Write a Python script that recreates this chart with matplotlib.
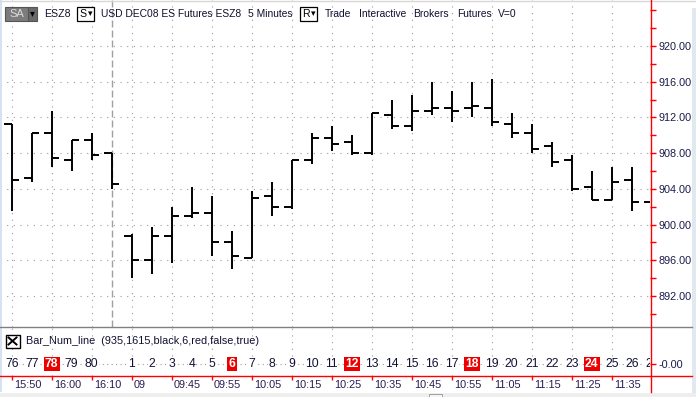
import matplotlib
matplotlib.use("Agg")
import matplotlib.pyplot as plt
from matplotlib.patches import Rectangle
import numpy as np

plt.rcParams['font.family'] = ['Liberation Sans', 'DejaVu Sans']

# bar labels (76..80 previous session, one unlabeled bar, then 1..27)
bar_labels = ['76', '77', '78', '79', '80', ''] + [str(i) for i in range(1, 28)]
highlight = ['78', '6', '12', '18', '24']

opens = [911.25, 905.25, 910.25, 907.25, 909.50, 908.00,
         898.75, 896.00, 898.75, 901.00, 901.25, 898.00, 896.25, 903.25, 902.00,
         907.25, 909.75, 909.25, 908.00, 912.25, 911.00, 912.75, 913.00, 913.00,
         913.00, 911.25, 910.25, 908.75, 907.25, 904.25, 902.75, 905.00, 902.50]
highs = [911.25, 910.25, 912.75, 909.50, 910.25, 908.00,
         899.00, 899.75, 902.00, 904.25, 903.25, 899.25, 903.75, 904.75, 907.25,
         910.25, 911.00, 910.00, 912.50, 914.00, 914.50, 916.00, 915.00, 916.00,
         916.25, 912.50, 911.25, 909.25, 907.75, 906.00, 906.50, 906.50, 902.50]
lows = [901.50, 904.75, 906.50, 906.00, 907.25, 904.00,
        894.00, 894.50, 895.75, 900.75, 896.50, 895.00, 896.25, 901.00, 901.75,
        906.75, 908.25, 907.75, 907.75, 910.75, 910.50, 912.25, 911.50, 912.00,
        911.00, 909.75, 908.00, 906.50, 903.75, 902.75, 902.75, 901.50, 902.50]
closes = [905.00, 910.25, 907.50, 909.50, 907.75, 904.50,
          896.00, 898.75, 901.00, 901.25, 898.00, 896.50, 903.00, 902.00, 907.25,
          909.75, 909.00, 908.00, 912.50, 911.00, 912.75, 913.00, 912.75, 913.25,
          911.50, 910.25, 908.50, 907.00, 904.00, 902.75, 904.75, 902.50, 902.50]

price_ticks = [892, 896, 900, 904, 908, 912, 916, 920]
time_labels = ['15:50', '16:00', '16:10', '09', '09:45', '09:55', '10:05', '10:15',
               '10:25', '10:35', '10:45', '10:55', '11:05', '11:15', '11:25', '11:35']
session_break = 5

W, H = 696, 397
TXT = '#1c1c4c'
GRID = '#9a9a9a'


def box(x0, y0, x1, y1):
    return [x0 / W, 1 - y1 / H, (x1 - x0) / W, (y1 - y0) / H]


fig = plt.figure(figsize=(W / 100, H / 100), dpi=100)
fig.patch.set_facecolor('white')

x = np.arange(len(opens))
xlim = (-0.585, 31.915)

# main price panel
ax = fig.add_axes(box(0, 0, 650, 327))
ax.set_xlim(*xlim)
ax.set_ylim(888.53, 925.15)
for s in ax.spines.values():
    s.set_visible(False)
ax.set_xticks([])
ax.yaxis.tick_right()
ax.set_yticks(price_ticks)
ax.set_yticks(np.arange(890, 926, 2), minor=True)
ax.set_yticklabels([f'{v:.2f}' for v in price_ticks])
ax.tick_params(axis='y', which='both', colors='red', length=4, width=1, direction='out',
               labelcolor=TXT, labelsize=7.8, pad=2)
for p in price_ticks:
    ax.axhline(p, color=GRID, lw=0.8, ls=(0, (1, 5)), zorder=0)
for i in range(0, 32, 2):
    ax.axvline(i, color=GRID, lw=0.8, ls=(0, (1, 5)), zorder=0)
ax.axvline(session_break, color='#a0a0a0', lw=1, ls=(0, (5, 2.2)), zorder=1)

t = 0.37
ax.vlines(x, lows, highs, color='black', lw=1.4, zorder=3)
ax.hlines(opens, x - t, x, color='black', lw=1.4, zorder=3)
ax.hlines(closes, x, x + t, color='black', lw=1.4, zorder=3)

# indicator panel with bar numbers
ax2 = fig.add_axes(box(0, 327, 650, 376))
ax2.set_xlim(*xlim)
ax2.set_ylim(-12, 37)
ax2.patch.set_alpha(0)
for s in ax2.spines.values():
    s.set_visible(False)
ax2.set_xticks([])
ax2.yaxis.tick_right()
ax2.set_yticks([0])
ax2.set_yticklabels(['-0.00'])
ax2.tick_params(axis='y', colors='red', length=4, width=1, labelcolor=TXT, labelsize=7.8, pad=2)
ax2.axhline(0, color=GRID, lw=0.8, ls=(0, (1, 3)), zorder=0)
for i in range(0, 32, 2):
    ax2.axvline(i, color=GRID, lw=0.8, ls=(0, (1, 5)), zorder=0)
for xi, lab in zip(x, bar_labels):
    if not lab:
        continue
    if lab in highlight:
        ax2.text(xi, 0, lab, ha='center', va='center', fontsize=8.7, color='white',
                 fontweight='bold', clip_on=True, zorder=3,
                 bbox=dict(boxstyle='square,pad=0.12', fc='#ee0000', ec='none'))
    else:
        ax2.text(xi, 0, lab, ha='center', va='center', fontsize=8.7, color='#111133',
                 clip_on=True, zorder=3,
                 bbox=dict(boxstyle='square,pad=0.02', fc='white', ec='none'))

# time axis
ax3 = fig.add_axes(box(0, 376, 650, 392))
ax3.set_xlim(*xlim)
ax3.set_ylim(0, 1)
for s in ax3.spines.values():
    s.set_visible(False)
ax3.set_yticks([])
ax3.xaxis.tick_top()
ax3.set_xticks(np.arange(0, 32, 2))
ax3.set_xticklabels([])
ax3.tick_params(axis='x', colors='red', direction='in', length=3, width=1)
for i, lab in zip(range(0, 32, 2), time_labels):
    ax3.text(i + 0.12, 0.45, lab, ha='left', va='center', fontsize=7.8, color='#2a1a50')

# overlay in pixel coordinates: frame lines, header, legend
ov = fig.add_axes([0, 0, 1, 1], zorder=10)
ov.set_xlim(0, W)
ov.set_ylim(H, 0)
ov.axis('off')
ov.patch.set_alpha(0)

ov.add_patch(Rectangle((0, 0), 1.5, 392, fc='#d6e2f2', ec='none'))
ov.add_patch(Rectangle((692, 8), 4, 385, fc='#e2e8f0', ec='none'))
ov.add_patch(Rectangle((0, 393), W, 4, fc='#eeeeee', ec='none'))
ov.add_patch(Rectangle((429, 393.5), 13, 4, fc='#f4f4f4', ec='#a0a0a0', lw=0.7))
ov.plot([0, W], [0.5, 0.5], color='#d8d8d8', lw=1)
ov.plot([0, 692], [327, 327], color='#808080', lw=1)
ov.plot([0, 692], [376, 376], color='red', lw=1)
ov.plot([650.5, 650.5], [0, 392], color='red', lw=1)

# header
ov.add_patch(Rectangle((5, 6.5), 23, 14, fc='#7c7c7c', ec='#555555', lw=0.8))
ov.add_patch(Rectangle((28, 6.5), 9, 14, fc='#6a6a6a', ec='#555555', lw=0.8))
ov.text(16.5, 14, 'SA', ha='center', va='center', fontsize=8, color='#dddddd')
ov.text(32.5, 13.5, '▾', ha='center', va='center', fontsize=7, color='black',
        family=['DejaVu Sans'])
ov.text(44, 14, 'ESZ8', ha='left', va='center', fontsize=7.6, color='#101030')
for x0, lab in [(77, 'S'), (300, 'R')]:
    ov.add_patch(Rectangle((x0, 6.5), 17, 14, fc='white', ec='black', lw=0.9))
    ov.text(x0 + 2, 14, lab, ha='left', va='center', fontsize=7.6, color='black')
    ov.text(x0 + 13, 13.5, '▾', ha='center', va='center', fontsize=6.5, color='black',
            family=['DejaVu Sans'])
for x0, lab in [(101, 'USD DEC08 ES Futures ESZ8'), (248, '5 Minutes'), (325, 'Trade'),
                (359, 'Interactive'), (413, 'Brokers'), (457, 'Futures'), (498, 'V=0')]:
    ov.text(x0, 14, lab, ha='left', va='center', fontsize=7.4, color='#101030')

# indicator legend
ov.add_patch(Rectangle((5.5, 334.5), 14, 13, fc='white', ec='black', lw=1))
ov.plot([8.5, 16.5], [337.5, 344.5], color='black', lw=1.4)
ov.plot([8.5, 16.5], [344.5, 337.5], color='black', lw=1.4)
ov.text(26, 341.5, 'Bar_Num_line  (935,1615,black,6,red,false,true)', ha='left',
        va='center', fontsize=7.8, color='#101030')

fig.savefig('out.png', dpi=100, facecolor='white')
